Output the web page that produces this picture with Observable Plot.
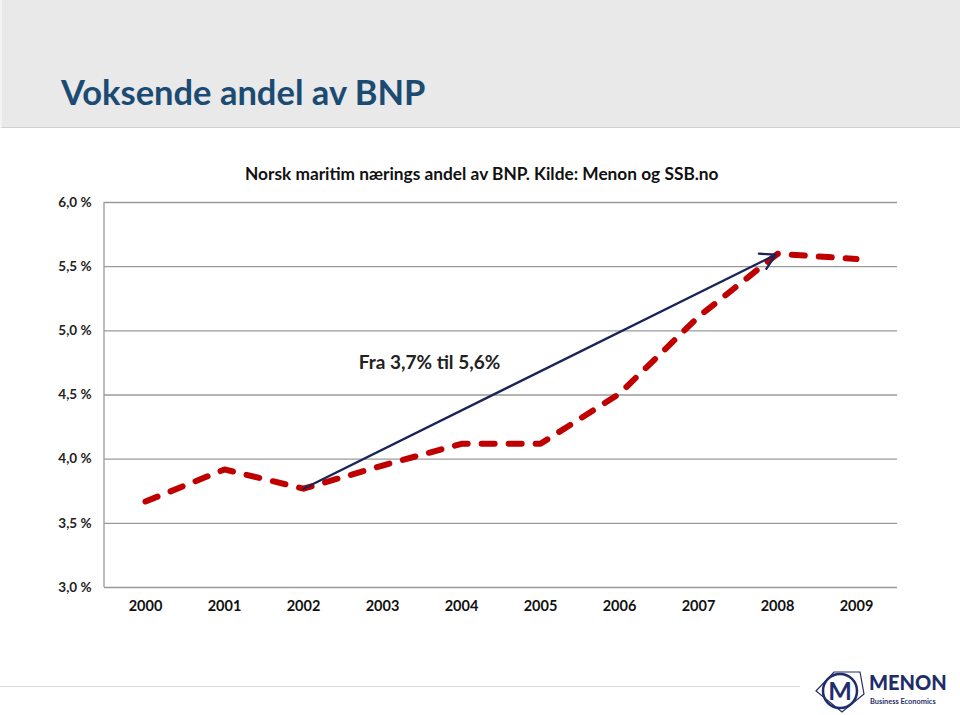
<!DOCTYPE html>
<html>
<head>
<meta charset="utf-8">
<script src="https://cdn.jsdelivr.net/npm/d3@7"></script>
<script src="https://cdn.jsdelivr.net/npm/@observablehq/plot@0.6"></script>
<style>
  html, body { margin: 0; padding: 0; background: #fff; }
  body { width: 960px; height: 715px; position: relative; overflow: hidden; font-family: Lato, "Open Sans", sans-serif; }
  #header { position: absolute; left: 0; top: 0; width: 960px; height: 128px; background: #e9e9e9; border-bottom: 1px solid #cfcfcf; box-sizing: border-box; border-left: 2px solid #f4f4f4; }
  #title { position: absolute; left: 59px; top: 71px; font-size: 34.5px; font-weight: bold; color: #1b4b73; white-space: nowrap; }
  #chart { position: absolute; left: 0; top: 128px; }
  #ctitle { position: absolute; left: 245px; top: 163px; font-size: 17.3px; font-weight: bold; color: #111; white-space: nowrap; }
  #footline { position: absolute; left: 0; top: 686px; width: 800px; height: 1px; background: #dcdcdc; }
  #logo { position: absolute; left: 812px; top: 664px; }
</style>
</head>
<body>
<div id="header"><div id="title">Voksende andel av BNP</div></div>
<div id="chart"></div>
<div id="ctitle">Norsk maritim nærings andel av BNP. Kilde: Menon og SSB.no</div>
<div id="footline"></div>
<div id="logo">
  <svg width="140" height="50" viewBox="0 0 140 50">
    <polygon points="4,27 22,8 48,8 52,30 30,48" fill="none" stroke="#1f2d6b" stroke-width="1.2"/>
    <circle cx="28" cy="27" r="17" fill="none" stroke="#1f2d6b" stroke-width="2.5"/>
    <text x="28" y="36" text-anchor="middle" font-family="Lato, sans-serif" font-weight="bold" font-size="25" fill="#1f2d6b">M</text>
    <text x="57" y="26" font-family="Lato, sans-serif" font-weight="900" font-size="20" fill="#1f2d6b">MENON</text>
    <text x="58" y="40" font-family="Lato, sans-serif" font-weight="bold" font-size="7.4" fill="#1f2d6b">Business Economics</text>
  </svg>
</div>
<script>
// ---- data ----
const years = ["2000","2001","2002","2003","2004","2005","2006","2007","2008","2009"];
const shares = [3.67, 3.92, 3.77, 3.95, 4.12, 4.12, 4.51, 5.11, 5.60, 5.56];
const yTicks = [3.0, 3.5, 4.0, 4.5, 5.0, 5.5, 6.0];
const arrowFromYear = "2002";
const arrowToYear = "2008";
const annotationText = ["Fra 3,7% til 5,6%"];
const annotationYear = ["2004"];
const annotationValue = [4.75];

const data = years.map((y, i) => ({year: y, value: shares[i]}));
const arrowData = [{
  x1: arrowFromYear, y1: shares[years.indexOf(arrowFromYear)],
  x2: arrowToYear, y2: shares[years.indexOf(arrowToYear)]
}];
const annotations = annotationText.map((t, i) => ({text: t, year: annotationYear[i], value: annotationValue[i]}));

const fmt = d => d.toFixed(1).replace(".", ",") + " %";

const leftAxisLine = (index, scales, values, dims) => {
  const g = d3.create("svg:line")
    .attr("x1", dims.marginLeft).attr("x2", dims.marginLeft)
    .attr("y1", dims.marginTop).attr("y2", dims.height - dims.marginBottom)
    .attr("stroke", "#9a9a9a").attr("stroke-width", 1.3);
  return g.node();
};

const chart = Plot.plot({
  width: 960,
  height: 587,
  marginLeft: 104,
  marginRight: 63,
  marginTop: 74,
  marginBottom: 128,
  style: {fontFamily: "Lato, 'Open Sans', sans-serif", background: "transparent", overflow: "visible"},
  x: {type: "point", domain: years, padding: 0.5, label: null},
  y: {domain: [3, 6], label: null},
  marks: [
    Plot.gridY(yTicks, {stroke: "#9a9a9a", strokeOpacity: 1, strokeWidth: 1.3}),
    leftAxisLine,
    Plot.axisY(yTicks, {tickSize: 0, tickPadding: 13, tickFormat: fmt, fontSize: 13.5, fontWeight: "bold", fill: "#222", label: null}),
    Plot.axisX({tickSize: 0, tickPadding: 13, fontSize: 14.5, fontWeight: "bold", fill: "#111", label: null}),
    Plot.line(data, {x: "year", y: "value", stroke: "#c00000", strokeWidth: 6, strokeDasharray: "13,14", strokeLinecap: "round", strokeLinejoin: "round"}),
    Plot.arrow(arrowData, {x1: "x1", y1: "y1", x2: "x2", y2: "y2", stroke: "#1a2459", strokeWidth: 2.3, headLength: 11, insetEnd: 2}),
    Plot.text(annotations, {x: "year", y: "value", text: "text", dx: -32, fontSize: 19, fontWeight: "bold", fill: "#222"})
  ]
});
document.getElementById("chart").appendChild(chart);
</script>
</body>
</html>
